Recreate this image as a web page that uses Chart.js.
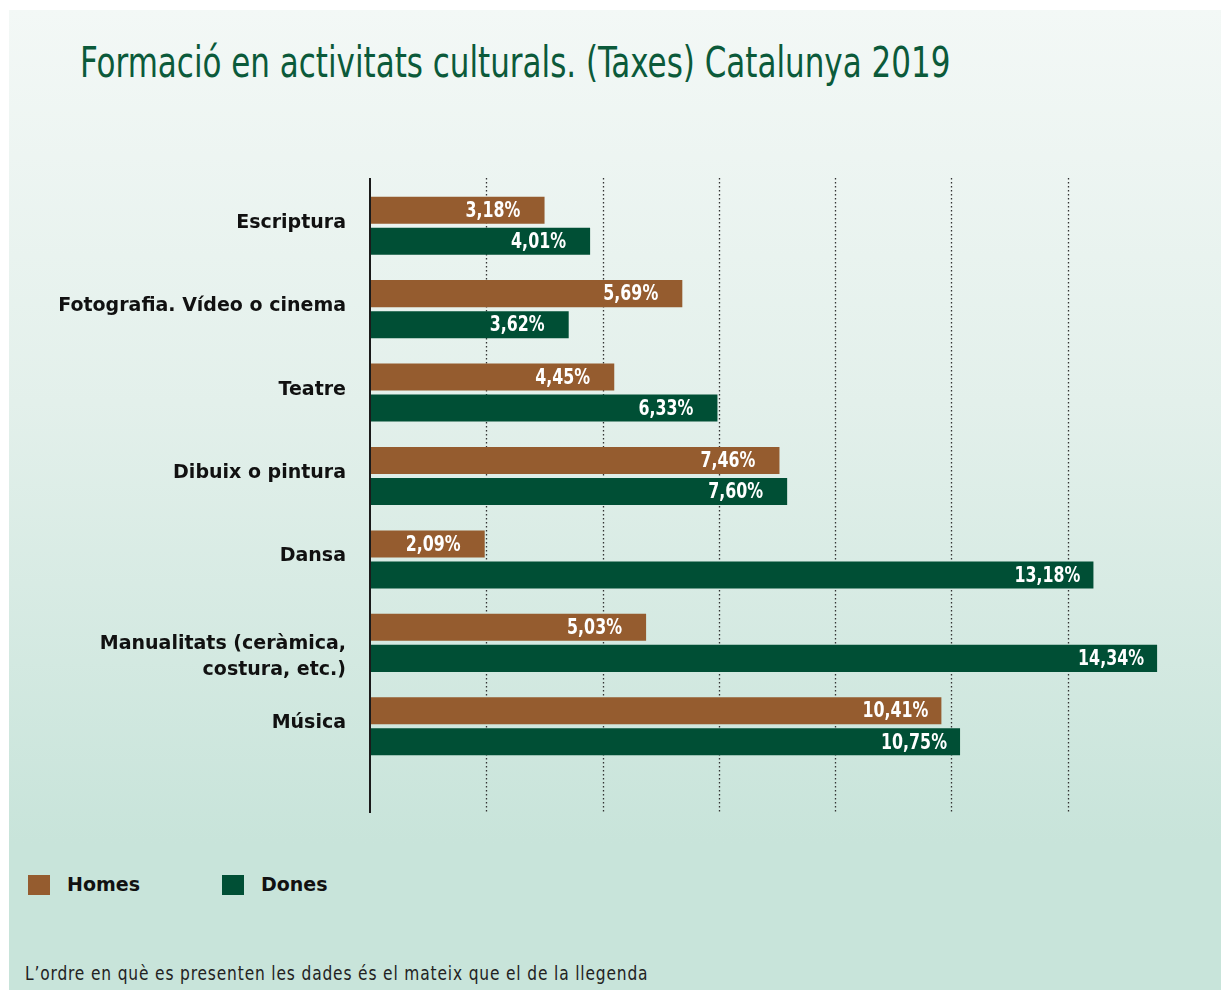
<!DOCTYPE html>
<html>
<head>
<meta charset="utf-8">
<script src="https://cdn.jsdelivr.net/npm/chart.js@4/dist/chart.umd.min.js"></script>
<style>
  html, body { margin: 0; padding: 0; background: #ffffff; }
  #wrap { position: relative; width: 1226px; height: 990px; overflow: hidden; }
  #panel { position: absolute; left: 9px; top: 10px; width: 1212px; height: 980px;
           background: linear-gradient(to bottom, #f3f8f6 0%, #e3f0eb 40%, #c8e4da 85%, #c8e4da 100%); }
  #title { position: absolute; left: 80px; top: 42px; margin: 0; font-family: "DejaVu Sans Condensed", "DejaVu Sans", sans-serif;
           font-weight: normal; font-size: 42px; line-height: 1; color: #0b5a3a; white-space: nowrap;
           transform-origin: 0 0; transform: scaleX(0.82); }
  #legend { position: absolute; left: 28px; top: 875px; height: 20px; font-family: "DejaVu Sans", sans-serif; font-weight: bold; font-size: 19px; color: #111; }
  .item { position: absolute; top: 0; white-space: nowrap; }
  .sw { position: absolute; top: 0; width: 22px; height: 20px; }
  .lab { position: absolute; top: -2px; left: 39px; line-height: 22px; }
  #note { position: absolute; left: 25px; top: 961px; font-family: "DejaVu Sans Condensed", "DejaVu Sans", sans-serif;
          font-size: 20px; color: #222; white-space: nowrap; letter-spacing: 1px;
          transform-origin: 0 0; transform: scaleX(0.857); }
  canvas { position: absolute; left: 0; top: 0; }
</style>
</head>
<body>
<div id="wrap">
  <div id="panel"></div>
  <h1 id="title">Formació en activitats culturals. (Taxes) Catalunya 2019</h1>
  <div id="legend"></div>
  <div id="note">L’ordre en què es presenten les dades és el mateix que el de la llegenda</div>
  <canvas id="c" width="1226" height="990"></canvas>
</div>
<script>
// ---- data ----
const CATEGORIES = ["Escriptura", "Fotografia. Vídeo o cinema", "Teatre", "Dibuix o pintura", "Dansa", ["Manualitats (ceràmica,", "costura, etc.)"], "Música"];
const SERIES_NAMES = ["Homes", "Dones"];
const HOMES = [3.18, 5.69, 4.45, 7.46, 2.09, 5.03, 10.41];
const DONES = [4.01, 3.62, 6.33, 7.60, 13.18, 14.34, 10.75];
const COLORS = ["#955c2f", "#004f35"];
const X_MAX = 14.83;
const GRID_STEP = X_MAX / 7;

// ---- legend (HTML) ----
const legendEl = document.getElementById('legend');
const legendX = [0, 194];
SERIES_NAMES.forEach((n, i) => {
  const it = document.createElement('div');
  it.className = 'item';
  it.style.left = legendX[i] + 'px';
  it.innerHTML = '<span class="sw" style="background:' + COLORS[i] + '"></span><span class="lab">' + n + '</span>';
  legendEl.appendChild(it);
});

const fmt = v => v.toFixed(2).replace('.', ',') + '%';

const decor = {
  id: 'decor',
  beforeDatasetsDraw(chart) {
    const { ctx, chartArea } = chart;
    const xs = chart.scales.x;
    const top = chartArea.top - 6, bottom = chartArea.bottom + 45;
    ctx.save();
    ctx.strokeStyle = '#333333';
    ctx.lineWidth = 1.3;
    ctx.setLineDash([1.5, 2.5]);
    for (let k = 1; k <= 6; k++) {
      const x = Math.round(xs.getPixelForValue(k * GRID_STEP)) + 0.5;
      ctx.beginPath(); ctx.moveTo(x, top); ctx.lineTo(x, bottom); ctx.stroke();
    }
    ctx.restore();
  },
  afterDatasetsDraw(chart) {
    const { ctx, chartArea } = chart;
    const xs = chart.scales.x, ys = chart.scales.y;
    ctx.save();
    // axis line
    ctx.strokeStyle = '#1a1a1a';
    ctx.lineWidth = 2;
    ctx.beginPath();
    ctx.moveTo(xs.getPixelForValue(0), chartArea.top - 6);
    ctx.lineTo(xs.getPixelForValue(0), chartArea.bottom + 45);
    ctx.stroke();
    // bar value labels (condensed)
    ctx.font = 'bold 22px "DejaVu Sans Condensed", "DejaVu Sans", sans-serif';
    ctx.fillStyle = '#ffffff';
    ctx.textAlign = 'left';
    ctx.textBaseline = 'middle';
    chart.data.datasets.forEach((ds, di) => {
      chart.getDatasetMeta(di).data.forEach((bar, i) => {
        ctx.save();
        ctx.translate(bar.x - 79, bar.y + 1);
        ctx.scale(0.8, 1);
        ctx.fillText(fmt(ds.data[i]), 0, 0);
        ctx.restore();
      });
    });
    // category labels
    ctx.font = 'bold 19px "DejaVu Sans", sans-serif';
    ctx.fillStyle = '#111111';
    ctx.textAlign = 'right';
    CATEGORIES.forEach((lab, i) => {
      const yc = ys.getPixelForValue(i);
      const lines = Array.isArray(lab) ? lab : [lab];
      const y0 = yc + (lines.length > 1 ? 1 : -3);
      lines.forEach((ln, j) => ctx.fillText(ln, 346, y0 + j * 26));
    });
    ctx.restore();
  }
};

new Chart(document.getElementById('c'), {
  type: 'bar',
  data: {
    labels: CATEGORIES,
    datasets: [
      { label: SERIES_NAMES[0], data: HOMES, backgroundColor: COLORS[0] },
      { label: SERIES_NAMES[1], data: DONES, backgroundColor: COLORS[1] }
    ]
  },
  options: {
    indexAxis: 'y',
    responsive: false,
    animation: false,
    maintainAspectRatio: false,
    categoryPercentage: 0.744,
    barPercentage: 0.87,
    layout: { padding: { left: 0, right: 42, top: 184, bottom: 222 } },
    plugins: { legend: { display: false }, tooltip: { enabled: false }, title: { display: false } },
    scales: {
      x: { display: false, min: 0, max: X_MAX, ticks: { stepSize: GRID_STEP } },
      y: {
        display: true,
        grid: { display: false },
        border: { display: false },
        ticks: { display: false },
        afterFit(scale) { scale.width = 370; }
      }
    }
  },
  plugins: [decor]
});
</script>
</body>
</html>
